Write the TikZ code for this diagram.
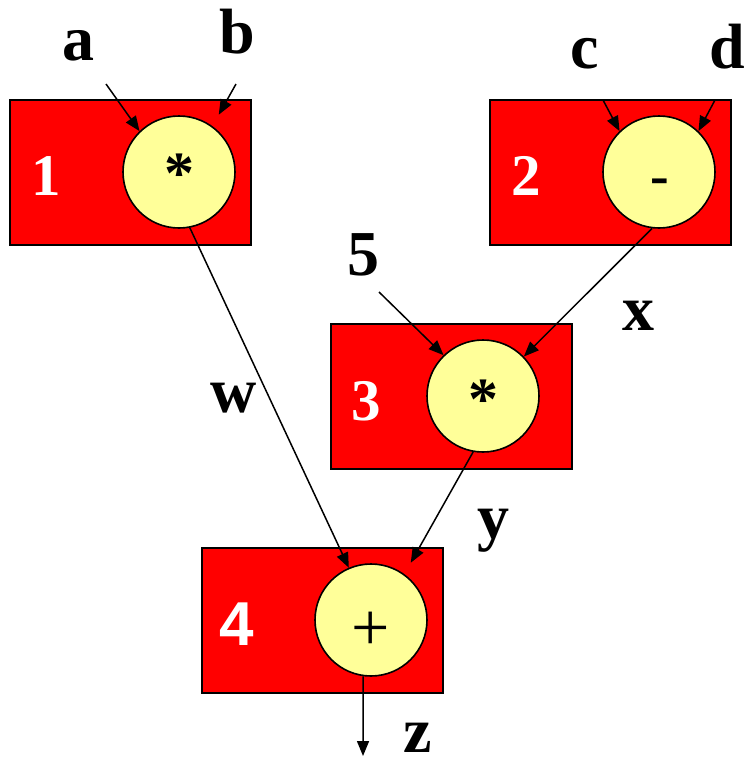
\documentclass[tikz,border=0pt]{standalone}
\usepackage{fontspec}
\setmainfont{Liberation Serif}
\newfontfamily\arialfont{Liberation Sans}
\usetikzlibrary{arrows.meta}
\definecolor{boxred}{RGB}{255,0,0}
\definecolor{opfill}{RGB}{255,255,153}
\begin{document}
\begin{tikzpicture}[x=1pt,y=-1pt,
 box/.style={draw=black, line width=2pt, fill=boxred, minimum width=241pt, minimum height=145pt, inner sep=0pt},
 op/.style={circle, draw=black, line width=1.6pt, fill=opfill, minimum size=112pt, inner sep=0pt},
 lbl/.style={font=\fontsize{64}{64}\selectfont\bfseries, anchor=base, inner sep=0pt},
 num/.style={font=\fontsize{59}{59}\selectfont\bfseries, text=white, anchor=base, inner sep=0pt},
 sym/.style={anchor=base, inner sep=0pt},
 arr/.style={line width=1.5pt, -{Triangle[length=15pt,width=12pt]}}]
\useasboundingbox[fill=white] (0,0) rectangle (747,766);
% boxes
\node[box] (box1) at (130.5,172.5) {};
\node[box] (box2) at (610.5,172.5) {};
\node[box] (box3) at (451,396) {};
\node[box] (box4) at (322.5,620.5) {};
% operator circles
\node[op] (op1) at (179,172) {};
\node[op] (op2) at (659,172) {};
\node[op] (op3) at (483,396) {};
\node[op] (op4) at (371,620) {};
% symbols
\node[sym, font=\fontsize{60}{60}\selectfont\bfseries] (s1) at (179,193) {*};
\node[sym, font=\fontsize{56}{56}\selectfont\bfseries] (s2) at (660,194) {-};
\node[sym, font=\fontsize{60}{60}\selectfont\bfseries] (s3) at (483,419) {*};
\node[sym, font=\fontsize{68}{68}\selectfont] (s4) at (371,650) {+};
% box numbers
\node[num] (n1) at (46,195) {1};
\node[num] (n2) at (526,195) {2};
\node[num] (n3) at (366,420) {3};
\node[num, font=\arialfont\fontsize{62}{62}\selectfont\bfseries] (n4) at (237,645) {4};
% labels
\node[lbl] (la) at (78,60) {a};
\node[lbl] (lb) at (237,53) {b};
\node[lbl] (lc) at (585,68) {c};
\node[lbl] (ld) at (727,68) {d};
\node[lbl] (l5) at (363,275) {5};
\node[lbl] (lw) at (234,412) {w};
\node[lbl] (lx) at (638,330) {x};
\node[lbl] (ly) at (493,538) {y};
\node[lbl] (lz) at (418,752) {z};
% free ends
\coordinate (ia) at (106,84);
\coordinate (ib) at (236,84);
\coordinate (ic) at (603,100);
\coordinate (id) at (715,100);
\coordinate (i5) at (379,292);
\coordinate (oz) at (363,756);
% connectors
\draw[arr] (ia) -- (op1.134);
\draw[arr, shorten >=13pt] (ib) -- (op1.54);
\draw[arr] (ic) -- (op2.134);
\draw[arr] (id) -- (op2.46);
\draw[arr] (i5) -- (op3.134);
\draw[arr] (op2.263) -- (op3.44);
\draw[arr] (op1.281) -- (op4.113);
\draw[arr, shorten >=13pt] (op3.260) -- (op4.54);
\draw[arr] (op4.262) -- (oz);
\end{tikzpicture}
\end{document}
